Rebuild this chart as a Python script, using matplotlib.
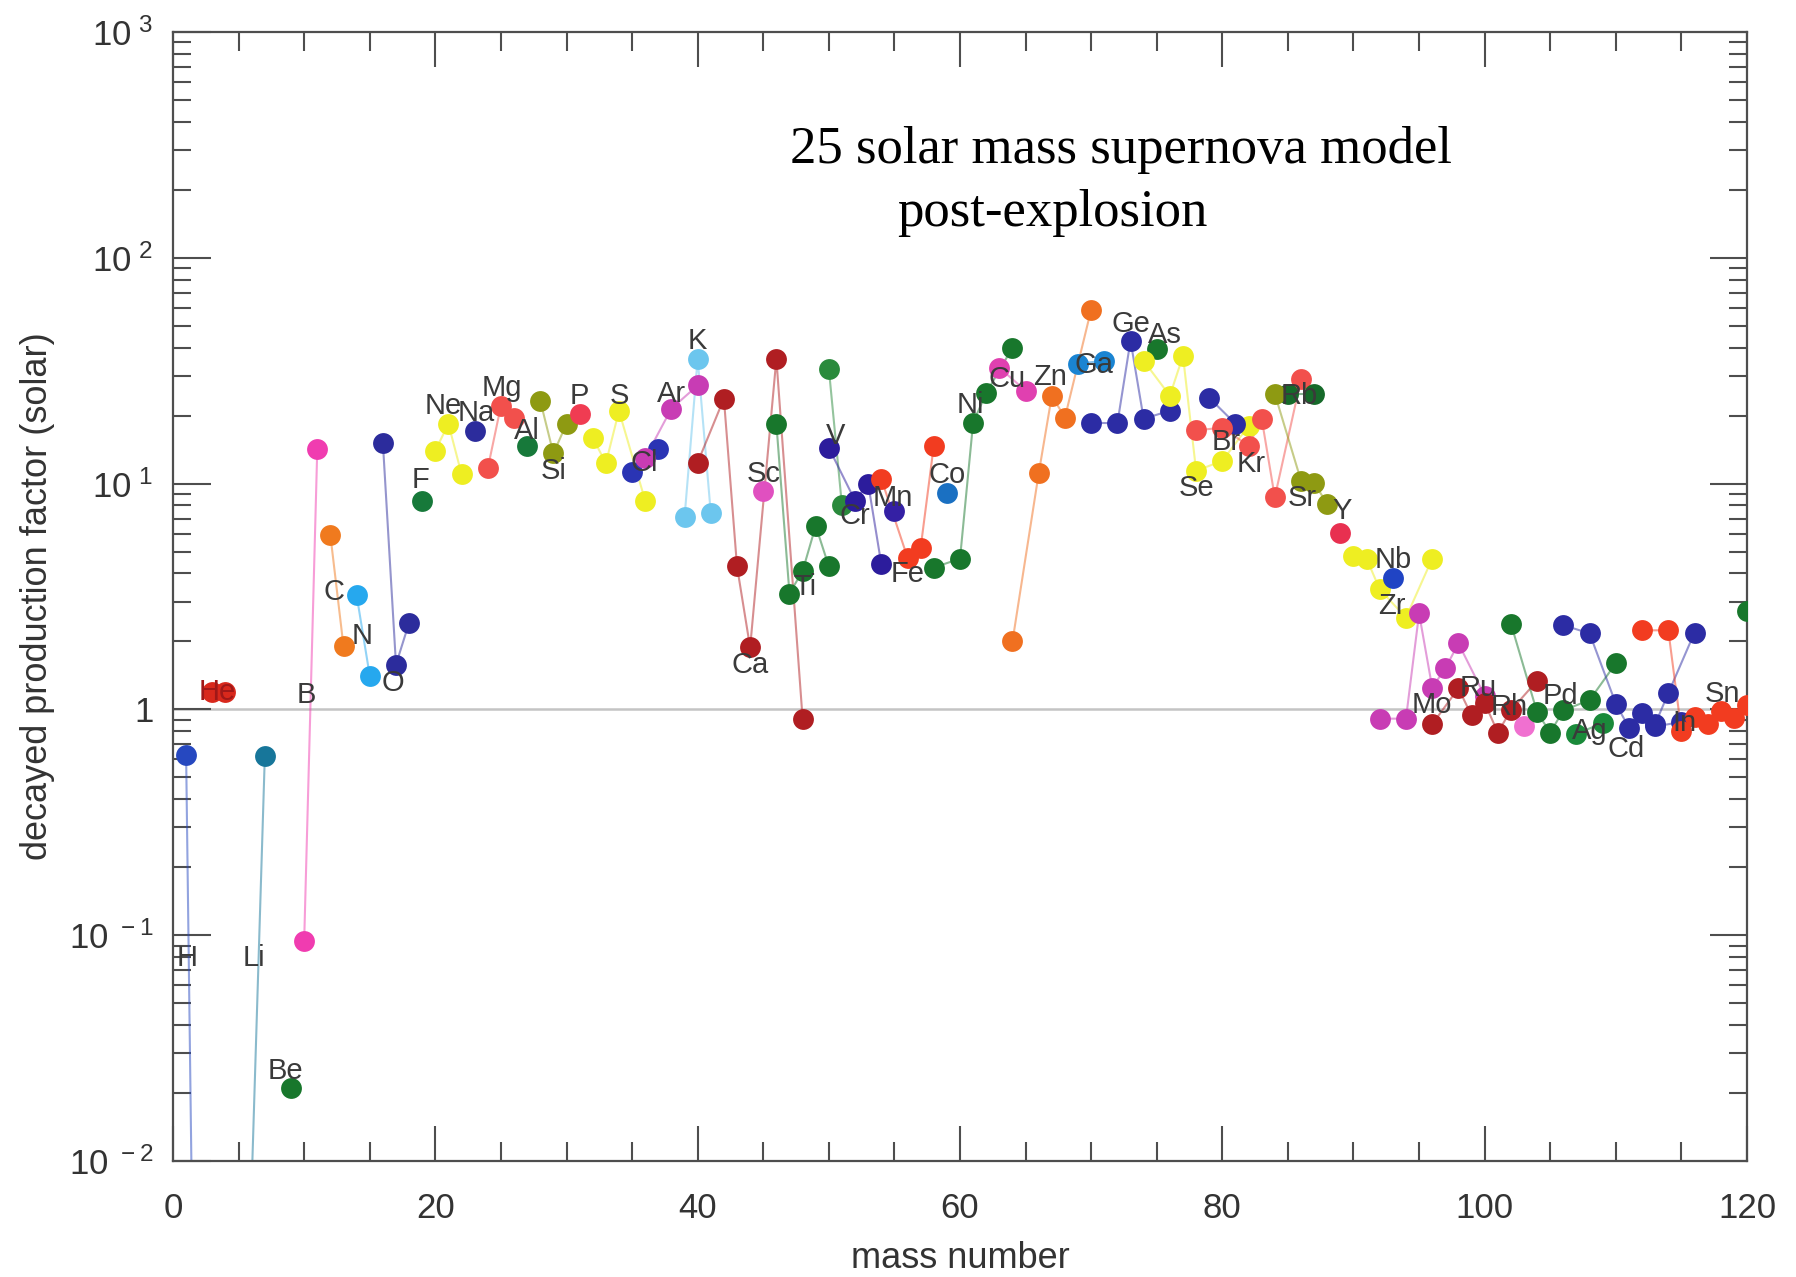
import matplotlib
matplotlib.use('Agg')
import matplotlib.pyplot as plt
from matplotlib.ticker import FixedLocator, LogLocator, MultipleLocator, NullFormatter

# values: one entry per element,
# isotopes of an element share a colour and are joined by a line
elements = ['H', 'He', 'Li', 'Be', 'B', 'C', 'N', 'O', 'F', 'Ne', 'Na', 'Mg', 'Al', 'Si',
            'P', 'S', 'Cl', 'Ar', 'K', 'Ca', 'Sc', 'Ti', 'V', 'Cr', 'Mn', 'Fe', 'Co', 'Ni',
            'Cu', 'Zn', 'Ga', 'Ge', 'As', 'Se', 'Br', 'Kr', 'Rb', 'Sr', 'Y', 'Zr', 'Nb',
            'Mo', 'Ru', 'Rh', 'Pd', 'Ag', 'Cd', 'In', 'Sn', 'Te']

mass_numbers = [
    [1, 2],                          # H
    [3, 4],                          # He
    [6, 7],                          # Li
    [9],                             # Be
    [10, 11],                        # B
    [12, 13],                        # C
    [14, 15],                        # N
    [16, 17, 18],                    # O
    [19],                            # F
    [20, 21, 22],                    # Ne
    [23],                            # Na
    [24, 25, 26],                    # Mg
    [27],                            # Al
    [28, 29, 30],                    # Si
    [31],                            # P
    [32, 33, 34, 36],                # S
    [35, 37],                        # Cl
    [36, 38, 40],                    # Ar
    [39, 40, 41],                    # K
    [40, 42, 43, 44, 46, 48],        # Ca
    [45],                            # Sc
    [46, 47, 48, 49, 50],            # Ti
    [50, 51],                        # V
    [50, 52, 53, 54],                # Cr
    [55],                            # Mn
    [54, 56, 57, 58],                # Fe
    [59],                            # Co
    [58, 60, 61, 62, 64],            # Ni
    [63, 65],                        # Cu
    [64, 66, 67, 68, 70],            # Zn
    [69, 71],                        # Ga
    [70, 72, 73, 74, 76],            # Ge
    [75],                            # As
    [74, 76, 77, 78, 80, 82],        # Se
    [79, 81],                        # Br
    [78, 80, 82, 83, 84, 86],        # Kr
    [85, 87],                        # Rb
    [84, 86, 87, 88],                # Sr
    [89],                            # Y
    [90, 91, 92, 94, 96],            # Zr
    [93],                            # Nb
    [92, 94, 95, 96, 97, 98, 100],   # Mo
    [96, 98, 99, 100, 101, 102, 104],  # Ru
    [103],                           # Rh
    [102, 104, 105, 106, 108, 110],  # Pd
    [107, 109],                      # Ag
    [106, 108, 110, 111, 112, 113, 114, 116],  # Cd
    [113, 115],                      # In
    [112, 114, 115, 116, 117, 118, 119, 120],  # Sn
    [120],                           # Te
]

prod_factors = [
    [0.63, 2e-5],                         # H
    [1.2, 1.2],                           # He
    [0.008, 0.62],                        # Li
    [0.021],                              # Be
    [0.094, 14.3],                        # B
    [5.9, 1.9],                           # C
    [3.2, 1.41],                          # N
    [15.2, 1.58, 2.42],                   # O
    [8.4],                                # F
    [14.0, 18.4, 11.0],                   # Ne
    [17.1],                               # Na
    [11.7, 22.1, 19.5],                   # Mg
    [14.7],                               # Al
    [23.3, 13.6, 18.4],                   # Si
    [20.4],                               # P
    [16.0, 12.3, 21.0, 8.4],              # S
    [11.2, 14.3],                         # Cl
    [13.0, 21.5, 27.2],                   # Ar
    [7.1, 35.7, 7.4],                     # K
    [12.4, 23.8, 4.3, 1.88, 35.7, 0.91],  # Ca
    [9.3],                                # Sc
    [18.4, 3.26, 4.1, 6.5, 4.3],          # Ti
    [32.3, 8.0],                          # V
    [14.4, 8.4, 10.0, 4.4],               # Cr
    [7.6],                                # Mn
    [10.5, 4.7, 5.2, 14.7],               # Fe
    [9.1],                                # Co
    [4.25, 4.65, 18.6, 25.2, 40.0],       # Ni
    [32.6, 25.8],                         # Cu
    [2.0, 11.1, 24.5, 19.6, 59.0],        # Zn
    [34.0, 35.0],                         # Ga
    [18.6, 18.5, 43.0, 19.4, 21.0],       # Ge
    [39.5],                               # As
    [35.0, 24.5, 36.8, 11.4, 12.6, 18.0], # Se
    [24.0, 18.4],                         # Br
    [17.2, 17.7, 14.7, 19.4, 8.7, 29.0],  # Kr
    [25.0, 25.0],                         # Rb
    [25.0, 10.3, 10.1, 8.1],              # Sr
    [6.05],                               # Y
    [4.8, 4.65, 3.4, 2.55, 4.65],         # Zr
    [3.83],                               # Nb
    [0.91, 0.91, 2.66, 1.25, 1.52, 1.96, 1.15],  # Mo
    [0.86, 1.24, 0.94, 1.07, 0.79, 0.99, 1.34],  # Ru
    [0.84],                               # Rh
    [2.4, 0.97, 0.79, 0.99, 1.1, 1.6],    # Pd
    [0.78, 0.87],                         # Ag
    [2.36, 2.17, 1.06, 0.83, 0.96, 0.86, 1.18, 2.19],  # Cd
    [0.84, 0.88],                         # In
    [2.24, 2.24, 0.80, 0.93, 0.86, 0.98, 0.92, 1.05],  # Sn
    [2.74],                               # Te
]

# styling: colour per element, and where its symbol is written (data coords)
elem_colors = {
    'H': '#2648c0', 'He': '#d8281c', 'Li': '#17769a', 'Be': '#18772c', 'B': '#f03cb0',
    'C': '#f07a1e', 'N': '#26a8ee', 'O': '#2c2c9c', 'F': '#17793a', 'Ne': '#eeee22',
    'Na': '#2c2c9c', 'Mg': '#f2504c', 'Al': '#17793a', 'Si': '#8e9a12', 'P': '#f03c52',
    'S': '#eeee22', 'Cl': '#2a34b4', 'Ar': '#c83cb4', 'K': '#6cc6ee', 'Ca': '#b01e22',
    'Sc': '#e050c0', 'Ti': '#18772c', 'V': '#2a8a3c', 'Cr': '#2c1c9c', 'Mn': '#3420a4',
    'Fe': '#f23c20', 'Co': '#1a70c2', 'Ni': '#18772c', 'Cu': '#e040b0', 'Zn': '#f07020',
    'Ga': '#1a84d2', 'Ge': '#2c2ca4', 'As': '#18772c', 'Se': '#eeee22', 'Br': '#2c2ca4',
    'Kr': '#f2504c', 'Rb': '#166a2a', 'Sr': '#8e9a12', 'Y': '#e83050', 'Zr': '#eeee22',
    'Nb': '#2044c4', 'Mo': '#c83cb4', 'Ru': '#b01e22', 'Rh': '#f070d0', 'Pd': '#18772c',
    'Ag': '#1a8a3a', 'Cd': '#2c2ca4', 'In': '#2c2ca4', 'Sn': '#f23c20', 'Te': '#18772c',
}

label_pos = {
    'H': (1.1, 0.079), 'He': (3.4, 1.2), 'Li': (6.2, 0.079), 'Be': (8.6, 0.025),
    'B': (10.2, 1.16), 'C': (12.3, 3.3), 'N': (14.4, 2.12), 'O': (16.8, 1.31),
    'F': (18.9, 10.4), 'Ne': (20.6, 22.1), 'Na': (23.1, 20.5), 'Mg': (25.1, 26.5),
    'Al': (27.0, 17.1), 'Si': (29.0, 11.4), 'P': (31.0, 24.5), 'S': (34.0, 24.5),
    'Cl': (35.9, 12.4), 'Ar': (38.0, 25.0), 'K': (40.0, 42.9), 'Ca': (44.0, 1.57),
    'Sc': (45.0, 11.0), 'Ti': (48.2, 3.49), 'V': (50.5, 16.3), 'Cr': (52.0, 7.2),
    'Mn': (54.9, 8.65), 'Fe': (56.0, 3.98), 'Co': (59.0, 10.9), 'Ni': (60.8, 22.3),
    'Cu': (63.6, 29.0), 'Zn': (66.9, 29.7), 'Ga': (70.2, 33.6), 'Ge': (73.0, 51.0),
    'As': (75.6, 45.5), 'Se': (78.0, 9.6), 'Br': (80.3, 15.3), 'Kr': (82.2, 12.2),
    'Rb': (85.9, 24.5), 'Sr': (86.1, 8.6), 'Y': (89.1, 7.6), 'Zr': (92.9, 2.88),
    'Nb': (93.0, 4.6), 'Mo': (96.0, 1.05), 'Ru': (99.5, 1.25), 'Rh': (101.9, 1.02),
    'Pd': (105.8, 1.15), 'Ag': (108.0, 0.80), 'Cd': (110.8, 0.67), 'In': (115.2, 0.87),
    'Sn': (118.1, 1.17),
}

y_ticks = [1e-2, 1e-1, 1, 10, 100, 1000]
y_ticklabels = [r'$\mathregular{10^{\ -2}}$', r'$\mathregular{10^{\ -1}}$', '1',
                r'$\mathregular{10^{\ 1}}$', r'$\mathregular{10^{\ 2}}$', r'$\mathregular{10^{\ 3}}$']
x_ticks = [0, 20, 40, 60, 80, 100, 120]

plt.rcParams['font.family'] = ['Liberation Sans', 'DejaVu Sans']
plt.rcParams['mathtext.fontset'] = 'custom'
plt.rcParams['mathtext.rm'] = 'Liberation Sans'

axis_grey = '#4e4e4e'

fig = plt.figure(figsize=(17.96, 12.77), dpi=100)
ax = fig.add_axes([173 / 1796, 1 - 1161 / 1277, (1747 - 173) / 1796, (1161 - 32) / 1277])

ax.axhline(1.0, color='#c4c4c4', lw=1.8, zorder=1)

for el, A, pf in zip(elements, mass_numbers, prod_factors):
    c = elem_colors[el]
    ax.plot(A, pf, '-', color=c, lw=1.5, alpha=0.5, zorder=2)
    ax.plot(A, pf, 'o', color=c, ms=15, mec='none', zorder=3)

for el, (x, y) in label_pos.items():
    col = '#a01818' if el == 'He' else '#3a3a3a'
    ax.text(x, y, el, ha='center', va='center', fontsize=21, color=col, zorder=4)

ax.set_yscale('log')
ax.set_xlim(0, 120)
ax.set_ylim(1e-2, 1e3)

ax.yaxis.set_major_locator(FixedLocator(y_ticks))
ax.set_yticklabels(y_ticklabels)
ax.yaxis.set_minor_locator(LogLocator(base=10, subs=range(2, 10), numticks=20))
ax.yaxis.set_minor_formatter(NullFormatter())
ax.xaxis.set_major_locator(FixedLocator(x_ticks))
ax.xaxis.set_minor_locator(MultipleLocator(5))

ax.tick_params(axis='both', which='both', direction='in', top=True, right=True,
               color=axis_grey, width=1.5, labelcolor='#333333')
ax.tick_params(axis='y', which='major', length=27, labelsize=25, pad=14)
ax.tick_params(axis='y', which='minor', length=13)
ax.tick_params(axis='x', which='major', length=25, labelsize=25, pad=22)
ax.tick_params(axis='x', which='minor', length=14)
for sp in ax.spines.values():
    sp.set_color(axis_grey)
    sp.set_linewidth(1.6)

ax.set_xlabel('mass number', fontsize=26, color='#333333', labelpad=12)
ax.set_ylabel('decayed production factor (solar)', fontsize=26, color='#333333', labelpad=10)

fig.text(790 / 1796, 1 - 163 / 1277, '25 solar mass supernova model',
         family='Liberation Serif', fontsize=38, ha='left', va='baseline')
fig.text(897 / 1796, 1 - 226 / 1277, 'post-explosion',
         family='Liberation Serif', fontsize=38, ha='left', va='baseline')

fig.savefig('out.png', dpi=100)
